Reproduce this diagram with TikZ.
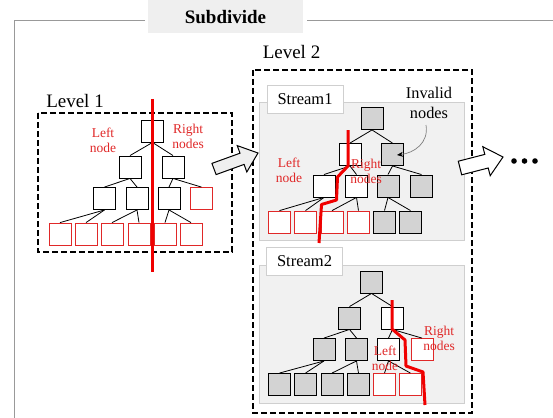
\documentclass[tikz,border=0pt]{standalone}
\usepackage{fontspec}
\setmainfont{Liberation Serif}
\usetikzlibrary{arrows.meta}
\definecolor{redA}{HTML}{E02828}
\definecolor{redL}{HTML}{F00000}
\definecolor{grayN}{HTML}{D3D3D3}
\definecolor{panel}{HTML}{F1F1F1}
\definecolor{panelB}{HTML}{CFCFCF}
\definecolor{frameC}{HTML}{999999}
\definecolor{titleF}{HTML}{EFEFEF}
\tikzset{
  bx/.style={draw=black, line width=0.9pt, minimum size=22pt, inner sep=0pt, fill=white},
  gbx/.style={bx, fill=grayN},
  rbx/.style={draw=redA, line width=0.8pt, minimum size=22pt, inner sep=0pt, fill=white},
  edge/.style={line width=0.8pt},
  cut/.style={redL, line width=3pt},
  lbl/.style={text=redA, font=\fontsize{13.5}{15}\selectfont, align=center, inner sep=0pt},
  dbox/.style={draw=black, line width=2.2pt, dash pattern=on 6pt off 3pt},
  streampanel/.style={draw=panelB, fill=panel, line width=0.8pt},
  streamlbl/.style={draw=panelB, fill=white, line width=0.8pt, font=\fontsize{16.5}{18}\selectfont, minimum width=76pt, minimum height=28pt, inner sep=0pt},
  levellbl/.style={font=\fontsize{19}{22}\selectfont, inner sep=0pt},
  blockarrow/.style={draw=black, fill=titleF, line width=1pt, line join=miter},
}
\begin{document}
\begin{tikzpicture}[x=1pt,y=-1pt]
\useasboundingbox (0,0) rectangle (553,417);
% frame
\draw[frameC, line width=1.6pt] (145,20.5) -- (14.5,20.5) -- (14.5,418);
\draw[frameC, line width=1.6pt] (307,20.5) -- (554,20.5);
\node[fill=titleF, minimum width=155pt, minimum height=33pt, inner sep=0pt, font=\bfseries\fontsize{19}{22}\selectfont] (title) at (225.5,17) {Subdivide};

% level labels
\node[levellbl] (lv1) at (75,101) {Level 1};
\node[levellbl] (lv2) at (291.5,52) {Level 2};

% dashed boxes
\draw[dbox] (38,113) rectangle (232,252);
\draw[dbox] (253,70) rectangle (472,413);

% stream panels
\draw[streampanel] (259,102) rectangle (464,240);
\draw[streampanel] (259,265) rectangle (464,403);
\node[streamlbl] (s1) at (305,99) {Stream1};
\node[streamlbl] (s2) at (304.5,261) {Stream2};

% ---------- Level 1 tree
\node[bx]  (a0) at (152.5,131) {};
\node[bx]  (a1) at (130,167) {};
\node[bx]  (a2) at (173,167) {};
\node[bx]  (a3) at (104.5,198.5) {};
\node[bx]  (a4) at (137,198.5) {};
\node[bx]  (a5) at (169,198.5) {};
\node[rbx] (a6) at (201.5,198.5) {};
\node[rbx] (a7) at (60,234) {};
\node[rbx] (a8) at (86,234) {};
\node[rbx] (a9) at (112,234) {};
\node[rbx] (a10) at (139,234) {};
\node[rbx] (a11) at (165,234) {};
\node[rbx] (a12) at (191,234) {};
\foreach \p/\c in {a0/a1,a0/a2,a1/a3,a1/a4,a2/a5,a2/a6,a3/a7,a3/a8,a4/a9,a4/a10,a5/a11,a5/a12}
  \draw[edge] (\p.south) -- (\c.north);
\node[lbl] (l1l) at (103,140) {Left\\node};
\node[lbl] (l1r) at (188,136) {Right\\nodes};
\draw[cut] (152,99) -- (152,272);

% ---------- Stream1 tree
\node[gbx] (b0) at (372,118.5) {};
\node[bx]  (b1) at (350,154.5) {};
\node[gbx] (b2) at (392.5,154.5) {};
\node[bx]  (b3) at (324,186) {};
\node[bx]  (b4) at (356.5,186) {};
\node[gbx] (b5) at (388,186) {};
\node[gbx] (b6) at (421.5,186) {};
\node[rbx] (b7) at (279.5,222) {};
\node[rbx] (b8) at (305.5,222) {};
\node[rbx] (b9) at (332,222) {};
\node[rbx] (b10) at (358.5,222) {};
\node[gbx] (b11) at (384.5,222) {};
\node[gbx] (b12) at (410.5,222) {};
\foreach \p/\c in {b0/b1,b0/b2,b1/b3,b1/b4,b2/b5,b2/b6,b3/b7,b3/b8,b4/b9,b4/b10,b5/b11,b5/b12}
  \draw[edge] (\p.south) -- (\c.north);
\node[lbl] (s1l) at (289,170) {Left\\node};
\node[lbl] (s1r) at (366,171) {Right\\nodes};
\draw[cut, line join=round] (348,130) -- (348,166) -- (337.5,177) -- (336.5,200) -- (321.5,204.5) -- (319,243);

% invalid nodes
\node[font=\fontsize{16.3}{20}\selectfont, align=center, inner sep=0pt] (inv) at (429,103) {Invalid\\nodes};
\draw[gray, line width=0.7pt, -{Stealth[black, length=6pt, width=5pt]}] (426,125) .. controls (429,143) and (414,153) .. (397,155);

% ---------- Stream2 tree
\node[gbx] (c0) at (371.5,282) {};
\node[gbx] (c1) at (349.5,318) {};
\node[bx]  (c2) at (392.5,318) {};
\node[gbx] (c3) at (324,349.5) {};
\node[gbx] (c4) at (356.5,349.5) {};
\node[bx]  (c5) at (388.5,349.5) {};
\node[rbx] (c6) at (422,349.5) {};
\node[gbx] (c7) at (279.5,384.5) {};
\node[gbx] (c8) at (305.5,384.5) {};
\node[gbx] (c9) at (332,384.5) {};
\node[gbx] (c10) at (358.5,384.5) {};
\node[rbx] (c11) at (384.5,384.5) {};
\node[rbx] (c12) at (410.5,384.5) {};
\foreach \p/\c in {c0/c1,c0/c2,c1/c3,c1/c4,c2/c5,c2/c6,c3/c7,c3/c8,c4/c9,c4/c10,c5/c11,c5/c12}
  \draw[edge] (\p.south) -- (\c.north);
\node[lbl] (s2l) at (385,358) {Left\\node};
\node[lbl] (s2r) at (439,338) {Right\\nodes};
\draw[cut, line join=round] (392,300) -- (392,329) -- (405,340) -- (406,366) -- (423,372) -- (425,405);

% block arrows
\draw[blockarrow] (211.9,163.4) -- (240.0,153.2) -- (237.2,145.6) -- (258,153) -- (246.8,172.0) -- (244.1,164.4) -- (216.1,174.6) -- cycle;
\draw[blockarrow, fill=white] (458.3,161.2) -- (484.8,154.4) -- (482.8,146.7) -- (503,157) -- (490.2,175.7) -- (488.2,168.0) -- (461.7,174.8) -- cycle;
\foreach \x in {514,524.5,535} \fill[black] (\x,161) circle (2.8pt);
\end{tikzpicture}
\end{document}
